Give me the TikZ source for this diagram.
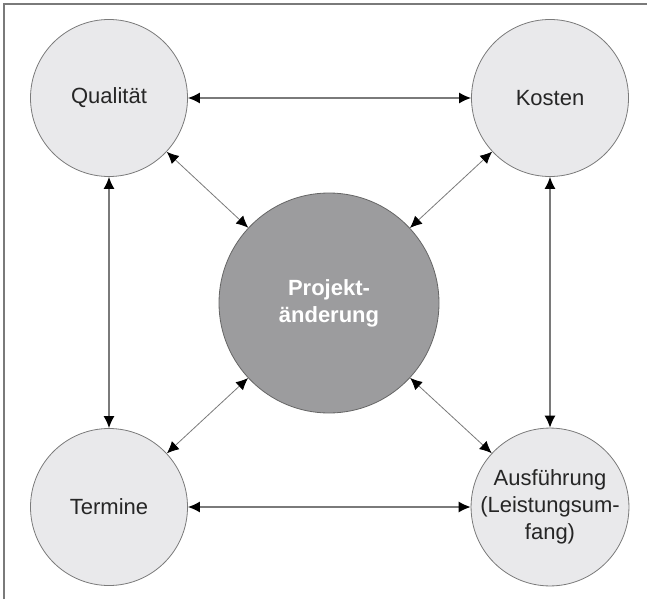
\documentclass[tikz,border=0pt]{standalone}
\usepackage{fontspec}
\setmainfont{Liberation Sans}
\usetikzlibrary{arrows.meta}
\definecolor{kreis}{HTML}{E9E9EB}
\definecolor{mitte}{HTML}{9C9C9E}
\definecolor{linie}{HTML}{7A7A7A}
\begin{document}
\begin{tikzpicture}[x=1pt,y=-1pt,>={Latex[length=12pt,width=11pt,color=black]},<->,
  ziel/.style={circle,draw=linie,line width=0.8pt,fill=kreis,minimum size=157pt,inner sep=0pt,
    align=center,font=\fontsize{22}{27}\selectfont,text=black!85},
  projekt/.style={circle,draw=black!60,line width=0.8pt,fill=mitte,minimum size=220pt,inner sep=0pt,
    align=center,font=\fontsize{22}{27}\selectfont\bfseries,text=white},
  gerade/.style={draw=linie,line width=1.3pt},
  schraeg/.style={draw=linie,line width=0.8pt}]
\useasboundingbox (0,0) rectangle (647,599);
\draw[-,linie,line width=1.5pt] (4,599) -- (4,4) -- (647,4);
\node[ziel] (Q) at (109,98) {Qualit\"at};
\node[ziel] (K) at (550,98) {Kosten};
\node[ziel] (T) at (109,507) {Termine};
\node[ziel] (A) at (550,507) {Ausf\"uhrung\\(Leistungsum-\\fang)};
\node[projekt] (P) at (329,303) {Projekt-\\\"anderung};
\draw[gerade] (Q) to (K);
\draw[gerade] (T) to (A);
\draw[gerade] (Q) to (T);
\draw[gerade] (K) to (A);
\draw[schraeg] (Q) to (P);
\draw[schraeg] (K) to (P);
\draw[schraeg] (T) to (P);
\draw[schraeg] (A) to (P);
\end{tikzpicture}
\end{document}
